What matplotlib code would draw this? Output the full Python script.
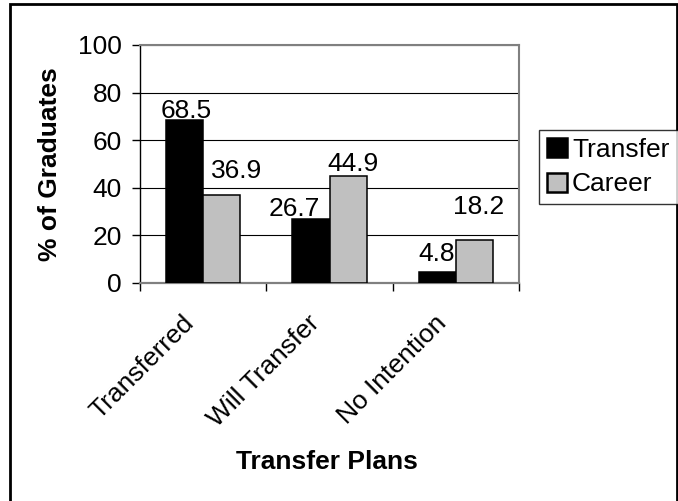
import matplotlib
matplotlib.use("Agg")
import matplotlib.pyplot as plt
import numpy as np
from matplotlib.patches import Rectangle
from matplotlib.transforms import ScaledTranslation

# Data
categories = ["Transferred", "Will Transfer", "No Intention"]
transfer = [68.5, 26.7, 4.8]
career = [36.9, 44.9, 18.2]
series_names = ["Transfer", "Career"]
yticks = [0, 20, 40, 60, 80, 100]

# Value label offsets (pixels) relative to the top centre of each bar
transfer_offsets = [(2, -3), (-17, -2), (-1, 6)]
career_offsets = [(15, 12), (5, 0), (4, 21)]

plt.rcParams["font.family"] = ["Liberation Sans", "DejaVu Sans"]

W, H = 678, 501
fig = plt.figure(figsize=(W / 100, H / 100), dpi=100)
ax = fig.add_axes([140 / W, 1 - 283 / H, (519 - 140) / W, (283 - 45) / H])

x = np.arange(len(categories))
bw = 0.293
b1 = ax.bar(x - bw / 2, transfer, bw, color="black", edgecolor="black",
            linewidth=1.1, label=series_names[0], zorder=3)
b2 = ax.bar(x + bw / 2, career, bw, color="#c0c0c0", edgecolor="black",
            linewidth=1.1, label=series_names[1], zorder=3)

fs = 19
for bars, vals, offs in ((b1, transfer, transfer_offsets), (b2, career, career_offsets)):
    for rect, v, (dx, dy) in zip(bars, vals, offs):
        ax.annotate(f"{v:.1f}", xy=(rect.get_x() + rect.get_width() / 2, v),
                    xytext=(dx, dy), textcoords="offset pixels",
                    ha="center", va="bottom", fontsize=fs, zorder=4)

ax.set_xlim(-0.5, 2.5)
ax.set_ylim(0, 100)
ax.set_yticks(yticks)
ax.yaxis.grid(True, color="black", linewidth=0.8, zorder=0)
ax.set_axisbelow(True)

ax.tick_params(axis="y", direction="out", length=6, width=1, pad=7,
               labelsize=fs, colors="black")
ax.set_xticks(x)
ax.set_xticklabels(categories, fontsize=fs, rotation=45, ha="right",
                   va="top", rotation_mode="anchor")
ax.tick_params(axis="x", which="major", length=0, pad=0)
ax.set_xticks([-0.5, 0.5, 1.5, 2.5], minor=True)
ax.tick_params(axis="x", which="minor", direction="out", length=6, width=1,
               color="black")
shift = ScaledTranslation(-22 / 100, -28 / 100, fig.dpi_scale_trans)
for lab in ax.get_xticklabels():
    lab.set_transform(lab.get_transform() + shift)

for side in ("top", "right"):
    ax.spines[side].set_color("#808080")
    ax.spines[side].set_linewidth(1.5)
ax.spines["bottom"].set_color("#808080")
ax.spines["bottom"].set_linewidth(1.6)
ax.spines["left"].set_color("black")
ax.spines["left"].set_linewidth(1)

ax.set_ylabel("% of Graduates", fontsize=fs, fontweight="bold")
ax.yaxis.set_label_coords(-78 / (519 - 140), 0.5)
fig.text(327 / W, 1 - 462 / H, "Transfer Plans", fontsize=fs,
         fontweight="bold", ha="center", va="center")

leg = fig.legend(handles=[b1, b2], labels=series_names, loc="upper left",
                 bbox_to_anchor=(539 / W, 1 - 207 / H, (686 - 539) / W, (207 - 130) / H),
                 mode="expand", borderaxespad=0,
                 fontsize=fs, fancybox=False, frameon=True, edgecolor="black",
                 handlelength=0.75, handleheight=0.75, handletextpad=0.2,
                 labelspacing=0.4, borderpad=0.3)
leg.get_frame().set_linewidth(1)
for h in leg.legend_handles:
    h.set_linewidth(1.8)

fig.add_artist(Rectangle((9.5 / W, -0.05), (677 - 9.5) / W, 1.05 - 4.5 / H,
                         transform=fig.transFigure, fill=False,
                         edgecolor="black", linewidth=2, clip_on=False))

fig.savefig("out.png", dpi=100, facecolor="white")
